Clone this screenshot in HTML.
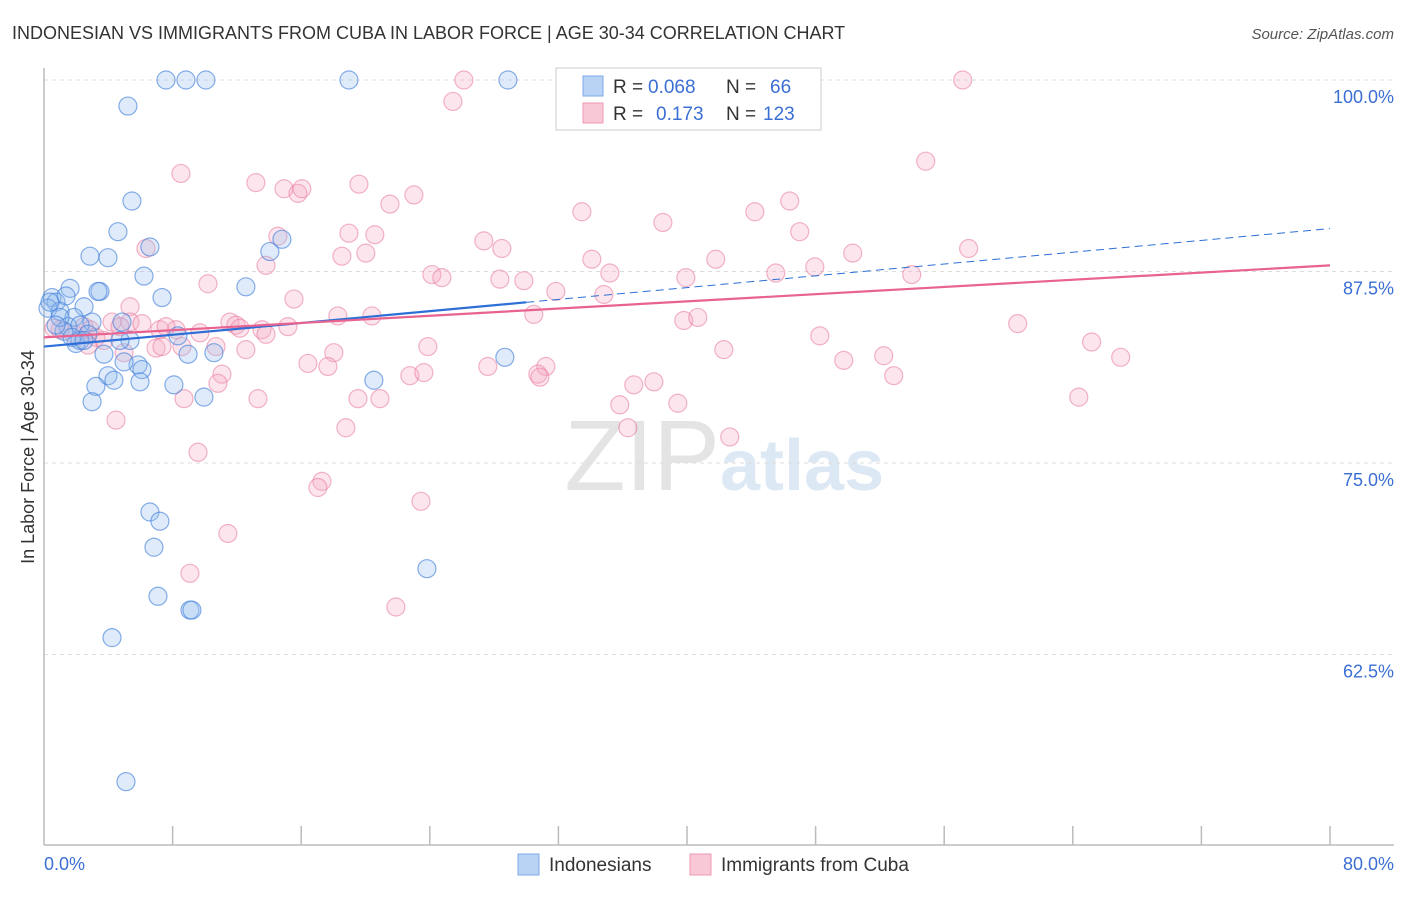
<!DOCTYPE html>
<html><head><meta charset="utf-8"><style>
body{margin:0;background:#fff;font-family:"Liberation Sans",sans-serif}
svg text{font-family:"Liberation Sans",sans-serif}
</style></head><body>
<svg width="1406" height="892" xmlns="http://www.w3.org/2000/svg">
<text x="12" y="39" font-size="18" fill="#333">INDONESIAN VS IMMIGRANTS FROM CUBA IN LABOR FORCE | AGE 30-34 CORRELATION CHART</text>
<text x="1394" y="39" font-size="15" fill="#555" text-anchor="end" font-style="italic">Source: ZipAtlas.com</text>
<text x="720" y="490" font-size="100" fill="#e4e4e4" text-anchor="end" font-family="Liberation Serif">ZIP</text>
<text x="720" y="490" font-size="72" fill="#dde8f5" font-weight="bold">atlas</text>
<g id="grid"></g><g id="axes"></g><g id="pts"></g><g id="lines"></g>
<text transform="translate(34,457) rotate(-90)" font-size="18" fill="#333" text-anchor="middle">In Labor Force | Age 30-34</text>
<text x="44" y="870" font-size="18" fill="#3b6fd4">0.0%</text>
<text x="1394" y="870" font-size="18" fill="#3b6fd4" text-anchor="end">80.0%</text>
<g>
<rect x="556" y="68" width="265" height="62" fill="#fff" stroke="#ccc"/>
<rect x="583" y="76" width="20" height="20" fill="#b9d3f5" stroke="#7fa9e8"/>
<rect x="583" y="103" width="20" height="20" fill="#f9c8d6" stroke="#ee9ab3"/>
<text y="93" font-size="19" fill="#333"><tspan x="613">R =</tspan><tspan x="648" fill="#3b6fd4">0.068</tspan><tspan x="726">N =</tspan><tspan x="770" fill="#3b6fd4">66</tspan></text>
<text y="120" font-size="19" fill="#333"><tspan x="613">R =</tspan><tspan x="656" fill="#3b6fd4">0.173</tspan><tspan x="726">N =</tspan><tspan x="763" fill="#3b6fd4">123</tspan></text>
</g>
<g>
<rect x="518" y="854" width="21" height="21" fill="#b9d3f5" stroke="#7fa9e8"/>
<text x="549" y="871" font-size="19" fill="#333">Indonesians</text>
<rect x="690" y="854" width="21" height="21" fill="#f9c8d6" stroke="#ee9ab3"/>
<text x="721" y="871" font-size="19" fill="#333">Immigrants from Cuba</text>
</g>
</svg>
<script>
const yTicks=[100,87.5,75,62.5];
const yTickLabels=["100.0%","87.5%","75.0%","62.5%"];
const blueX=[7.59,8.83,10.07,18.97,28.86,5.22,5.47,4.60,6.59,2.86,3.98,14.05,14.80,6.22,1.62,3.48,3.36,12.56,7.34,0.50,0.75,1.37,2.49,0.25,1.00,1.87,2.99,1.49,1.24,2.24,4.85,2.74,1.99,5.35,3.73,5.85,6.09,4.98,3.98,4.35,3.23,5.97,8.33,8.96,10.57,8.08,9.95,2.99,20.52,28.67,6.59,7.21,6.84,7.09,9.08,9.20,23.82,4.23,5.10,2.24,1.00,0.75,1.74,2.49,0.37,4.73];
const blueY=[100,100,100,100,100,98.3,92.1,90.1,89.1,88.5,88.4,88.8,89.6,87.2,86.4,86.2,86.2,86.5,85.8,85.8,85.5,85.9,85.2,85.1,84.9,84.5,84.2,83.9,83.6,84.0,84.2,83.4,82.8,83.0,82.1,81.4,81.1,81.6,80.7,80.4,80.0,80.3,83.3,82.1,82.2,80.1,79.3,79.0,80.4,81.9,71.8,71.2,69.5,66.3,65.4,65.4,68.1,63.6,54.2,83.0,84.5,84.0,83.2,83.0,85.5,83.0];
const pinkX=[32.46,26.12,57.15,25.44,54.85,8.52,13.18,14.93,15.80,16.04,19.59,23.01,21.52,33.46,44.22,46.39,38.50,47.01,14.55,18.97,20.58,27.36,28.48,6.34,20.02,18.53,50.31,57.52,34.08,41.79,13.81,24.13,24.75,10.20,28.36,29.85,35.20,39.93,45.52,47.95,53.98,31.84,34.83,5.35,15.55,18.28,20.40,30.47,39.80,40.67,60.57,8.21,5.35,4.23,6.09,7.21,7.59,2.49,2.86,3.23,3.73,4.73,9.70,11.57,11.94,12.19,13.56,15.17,13.81,1.00,0.62,1.87,2.74,6.97,7.34,8.58,10.70,12.56,4.98,18.03,23.88,42.29,48.26,65.17,66.98,16.42,17.66,22.76,23.63,27.61,31.22,30.72,30.85,49.75,52.24,52.86,36.69,37.94,11.07,10.82,8.71,13.31,19.53,20.90,64.37,35.82,39.43,4.48,18.78,36.32,42.66,9.58,17.29,17.04,23.45,11.44,9.08,21.89];
const pinkY=[100,100,100,98.6,94.7,93.9,93.3,92.9,92.6,92.9,93.2,92.5,91.9,91.4,91.4,92.1,90.7,90.1,89.8,90.0,89.9,89.5,89.0,89.0,88.7,88.5,88.7,89.0,88.3,88.3,87.9,87.3,87.1,86.7,87.0,86.9,87.4,87.1,87.4,87.8,87.3,86.2,86.0,85.2,85.7,84.6,84.6,84.7,84.3,84.5,84.1,83.7,84.2,84.2,84.1,83.7,83.9,83.9,83.7,83.2,83.0,83.9,83.5,84.2,84.0,83.8,83.7,83.9,83.4,83.7,83.8,83.4,82.7,82.5,82.6,82.6,82.6,82.4,82.2,82.2,82.6,82.4,83.3,82.9,81.9,81.5,81.3,80.7,80.9,81.3,81.3,80.8,80.6,81.7,82.0,80.7,80.1,80.3,80.8,80.2,79.2,79.2,79.2,79.2,79.3,78.8,78.9,77.8,77.3,77.3,76.7,75.7,73.8,73.4,72.5,70.4,67.8,65.6];
const blueTrend=[82.6,90.3];
const pinkTrend=[83.2,87.9];
const X=v=>44+v*16.075, Y=v=>80+(100-v)*15.32;
const NS="http://www.w3.org/2000/svg";
function mk(t,a,p){const e=document.createElementNS(NS,t);for(const k in a)e.setAttribute(k,a[k]);p.appendChild(e);return e;}
const grid=document.getElementById('grid'),axes=document.getElementById('axes'),pts=document.getElementById('pts'),lines=document.getElementById('lines');
yTicks.forEach((t,i)=>{
 const l=mk('line',{x1:44,x2:1394,y1:Y(t),y2:Y(t),stroke:'#ddd','stroke-dasharray':'4,4'},grid);
 
 
 const tx=mk('text',{x:1394,y:Y(t)+23,'font-size':18,fill:'#3b6fd4','text-anchor':'end'},grid);
 tx.textContent=yTickLabels[i];
 
 
});
const ya=mk('line',{x1:44,x2:44,y1:68,y2:845,stroke:'#bbb','stroke-width':1.5},axes);


const xa=mk('line',{x1:44,x2:1394,y1:845,y2:845,stroke:'#bbb','stroke-width':1.5},axes);


for(let i=1;i<=10;i++){const tk=mk('line',{x1:X(i*8),x2:X(i*8),y1:826,y2:845,stroke:'#bbb','stroke-width':1.5},axes);
 
 }
pinkX.forEach((x,i)=>{const c=mk('circle',{cx:X(x),cy:Y(pinkY[i]),r:9,fill:'rgba(246,170,195,0.3)',stroke:'rgba(232,120,155,0.55)','stroke-width':1.2},pts);
 
 });
blueX.forEach((x,i)=>{const c=mk('circle',{cx:X(x),cy:Y(blueY[i]),r:9,fill:'rgba(150,190,240,0.3)',stroke:'rgba(70,130,220,0.65)','stroke-width':1.2},pts);
 
 });
const bAt=v=>blueTrend[0]+(blueTrend[1]-blueTrend[0])*v/80;
const pAt=v=>pinkTrend[0]+(pinkTrend[1]-pinkTrend[0])*v/80;
const b1=mk('line',{x1:X(0),y1:Y(bAt(0)),x2:X(30),y2:Y(bAt(30)),stroke:'#2d6fd6','stroke-width':2.2},lines);


const b2=mk('line',{x1:X(30),y1:Y(bAt(30)),x2:X(80),y2:Y(bAt(80)),stroke:'#2d6fd6','stroke-width':1,'stroke-dasharray':'8,5'},lines);


const p1=mk('line',{x1:X(0),y1:Y(pAt(0)),x2:X(80),y2:Y(pAt(80)),stroke:'#e8638f','stroke-width':2.2},lines);


</script>
</body></html>
